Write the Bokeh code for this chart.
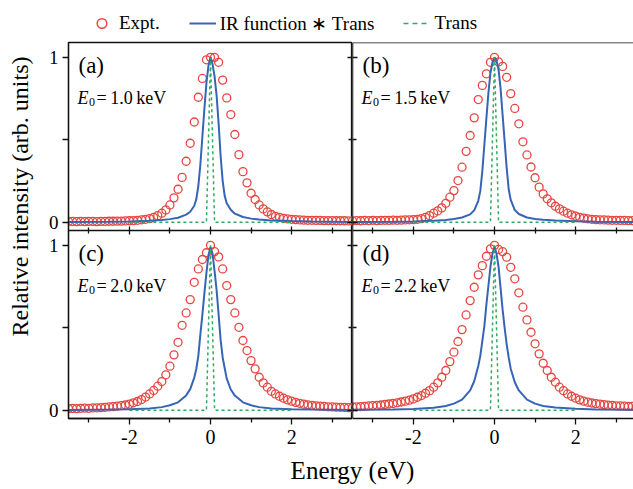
import math
from bokeh.plotting import figure
from bokeh.models import Range1d, LinearAxis, FixedTicker, Label, Legend, LegendItem, Span
from bokeh.layouts import row, column
from bokeh.embed import file_html
from bokeh.resources import INLINE

# ---------------- data ----------------
E_EXPT = [-3.5, -3.4, -3.3, -3.2, -3.1, -3.0, -2.9, -2.8, -2.7, -2.6,
          -2.5, -2.4, -2.3, -2.2, -2.1, -2.0, -1.9, -1.8, -1.7, -1.6,
          -1.5, -1.4, -1.3, -1.2, -1.1, -1.0, -0.9, -0.8, -0.7, -0.6,
          -0.5, -0.4, -0.3, -0.2, -0.1, 0.0, 0.1, 0.2, 0.3, 0.4,
          0.5, 0.6, 0.7, 0.8, 0.9, 1.0, 1.1, 1.2, 1.3, 1.4,
          1.5, 1.6, 1.7, 1.8, 1.9, 2.0, 2.1, 2.2, 2.3, 2.4,
          2.5, 2.6, 2.7, 2.8, 2.9, 3.0, 3.1, 3.2, 3.3, 3.4, 3.5]

EXPT_A = [0.005, 0.005, 0.004, 0.005, 0.004, 0.005, 0.005, 0.004, 0.005, 0.005,
          0.006, 0.006, 0.007, 0.007, 0.008, 0.009, 0.010, 0.012, 0.015, 0.018,
          0.022, 0.030, 0.040, 0.055, 0.075, 0.105, 0.148, 0.200, 0.272, 0.370,
          0.479, 0.608, 0.758, 0.872, 0.985, 1.000, 1.000, 0.970, 0.862, 0.754,
          0.653, 0.532, 0.410, 0.307, 0.239, 0.176, 0.138, 0.105, 0.081, 0.063,
          0.047, 0.036, 0.030, 0.024, 0.020, 0.018, 0.016, 0.014, 0.013, 0.012,
          0.012, 0.011, 0.011, 0.010, 0.010, 0.010, 0.009, 0.009, 0.009, 0.008, 0.008]

EXPT_B = [0.008, 0.010, 0.009, 0.011, 0.010, 0.012, 0.010, 0.011, 0.012, 0.011,
          0.013, 0.012, 0.013, 0.014, 0.015, 0.016, 0.018, 0.022, 0.030, 0.040,
          0.055, 0.069, 0.087, 0.115, 0.152, 0.192, 0.253, 0.334, 0.430, 0.526,
          0.633, 0.744, 0.830, 0.900, 0.970, 1.000, 0.972, 0.945, 0.879, 0.780,
          0.690, 0.597, 0.488, 0.408, 0.335, 0.270, 0.213, 0.172, 0.142, 0.118,
          0.097, 0.081, 0.067, 0.055, 0.045, 0.037, 0.030, 0.025, 0.021, 0.018,
          0.016, 0.015, 0.014, 0.013, 0.012, 0.012, 0.011, 0.011, 0.010, 0.010, 0.010]

EXPT_C = [0.010, 0.011, 0.010, 0.012, 0.013, 0.012, 0.014, 0.015, 0.016, 0.018,
          0.020, 0.022, 0.025, 0.028, 0.032, 0.037, 0.045, 0.053, 0.065, 0.080,
          0.099, 0.120, 0.146, 0.174, 0.215, 0.267, 0.336, 0.412, 0.515, 0.590,
          0.671, 0.776, 0.857, 0.914, 0.955, 1.000, 0.962, 0.930, 0.857, 0.756,
          0.671, 0.590, 0.503, 0.423, 0.362, 0.301, 0.251, 0.200, 0.166, 0.140,
          0.115, 0.099, 0.085, 0.073, 0.063, 0.055, 0.048, 0.042, 0.037, 0.033,
          0.030, 0.027, 0.025, 0.023, 0.021, 0.020, 0.019, 0.018, 0.017, 0.016, 0.016]

EXPT_D = [0.020, 0.021, 0.022, 0.024, 0.026, 0.028, 0.030, 0.032, 0.035, 0.038,
          0.041, 0.045, 0.050, 0.055, 0.061, 0.069, 0.079, 0.089, 0.103, 0.119,
          0.140, 0.166, 0.200, 0.241, 0.295, 0.352, 0.417, 0.489, 0.578, 0.665,
          0.746, 0.821, 0.877, 0.934, 0.979, 1.000, 0.975, 0.962, 0.928, 0.867,
          0.797, 0.712, 0.625, 0.548, 0.473, 0.403, 0.342, 0.285, 0.241, 0.200,
          0.170, 0.140, 0.119, 0.099, 0.085, 0.073, 0.063, 0.055, 0.049, 0.044,
          0.040, 0.037, 0.034, 0.031, 0.029, 0.027, 0.026, 0.025, 0.024, 0.023, 0.022]

E_IR = [-3.5, -2.5, -2.0, -1.5, -1.2, -1.0, -0.8, -0.6, -0.5, -0.4,
        -0.35, -0.3, -0.25, -0.2, -0.15, -0.1, -0.05, 0.0, 0.05, 0.1,
        0.15, 0.2, 0.25, 0.3, 0.35, 0.4, 0.5, 0.6, 0.8, 1.0,
        1.2, 1.5, 2.0, 2.5, 3.5]

IR_A = [0.001, 0.003, 0.005, 0.009, 0.014, 0.019, 0.027, 0.046, 0.064, 0.100,
        0.140, 0.220, 0.350, 0.520, 0.690, 0.845, 0.950, 1.000, 0.960, 0.885,
        0.770, 0.600, 0.400, 0.250, 0.160, 0.115, 0.076, 0.052, 0.032, 0.022,
        0.016, 0.011, 0.007, 0.004, 0.002]

IR_B = [0.002, 0.003, 0.005, 0.009, 0.014, 0.020, 0.029, 0.048, 0.072, 0.130,
        0.190, 0.310, 0.470, 0.630, 0.785, 0.905, 0.970, 1.000, 0.980, 0.925,
        0.810, 0.650, 0.490, 0.330, 0.200, 0.135, 0.074, 0.050, 0.029, 0.020,
        0.015, 0.010, 0.006, 0.003, 0.002]

IR_C = [0.002, 0.004, 0.006, 0.011, 0.019, 0.030, 0.048, 0.090, 0.128, 0.198,
        0.250, 0.330, 0.460, 0.580, 0.710, 0.835, 0.940, 0.990, 0.950, 0.845,
        0.730, 0.580, 0.425, 0.320, 0.255, 0.192, 0.126, 0.089, 0.048, 0.030,
        0.019, 0.011, 0.006, 0.004, 0.002]

IR_D = [0.003, 0.005, 0.008, 0.015, 0.026, 0.040, 0.064, 0.120, 0.176, 0.268,
        0.330, 0.420, 0.510, 0.640, 0.755, 0.870, 0.950, 0.990, 0.950, 0.870,
        0.740, 0.610, 0.500, 0.400, 0.320, 0.252, 0.170, 0.120, 0.064, 0.040,
        0.026, 0.016, 0.009, 0.005, 0.003]

E_TRANS = [-2.0, -0.1, 0.0, 0.1, 2.0]
TRANS = [0.0, 0.0, 1.0, 0.0, 0.0]

PANEL_TAGS = ["(a)", "(b)", "(c)", "(d)"]
PANEL_E0 = ["1.0", "1.5", "2.0", "2.2"]
X_MAJOR = [-2, 0, 2]
X_MINOR = [-3, -1, 1, 3]
X_TICK_LABELS = {-2: "-2", 0: "0", 2: "2"}
Y_MAJOR = [0, 1]
Y_MINOR = [0.5]
Y_TICK_LABELS = {0: "0", 1: "1"}
LEGEND_LABELS = ["Expt.", "IR function \u2217 Trans", "Trans"]
X_LABEL = "Energy (eV)"
Y_LABEL = "Relative intensity (arb. units)"

# ---------------- style ----------------
FONT = "Liberation Serif"
RED = "#e8453f"
BLUE = "#3765b5"
GREEN = "#2faa5e"
AX = "#111111"
LW = 1.3
X0, X1 = -3.5, 3.5
X1_RIGHT = 3.426
Y0, Y1 = -0.05, 1.09
SPAN = Y1 - Y0
PANEL_H = 188


def base_axis(ticker, **kw):
    ax = LinearAxis(ticker=ticker, **kw)
    ax.axis_line_color = AX
    ax.axis_line_width = LW
    ax.major_tick_line_color = AX
    ax.major_tick_line_width = LW
    ax.minor_tick_line_color = AX
    ax.minor_tick_line_width = LW
    return ax


def bare_ticks(ax, mj_in, mj_out, mn_in, mn_out):
    ax.major_tick_in = mj_in
    ax.major_tick_out = mj_out
    ax.minor_tick_in = mn_in
    ax.minor_tick_out = mn_out
    ax.major_label_text_color = None
    ax.major_label_standoff = 0
    return ax


def make_column(top_i, bot_i, expts, irs, left_col):
    x_end = X1 if left_col else X1_RIGHT
    p = figure(width=314 if left_col else 281, height=1 + 2 * PANEL_H + 34,
               x_range=Range1d(X0, x_end), y_range=Range1d(Y0, Y1 + SPAN),
               output_backend="svg", toolbar_location=None, tools="",
               x_axis_location=None, y_axis_location=None,
               min_border_left=30 if left_col else 0, min_border_right=0,
               min_border_top=1, min_border_bottom=34)
    p.extra_y_ranges = {"top": Range1d(Y0 - SPAN, Y1)}
    p.grid.visible = False
    p.background_fill_color = "white"
    p.border_fill_color = "white"
    p.outline_line_color = AX if left_col else None
    p.outline_line_width = LW

    xt = FixedTicker(ticks=X_MAJOR, minor_ticks=X_MINOR)
    yt = FixedTicker(ticks=Y_MAJOR, minor_ticks=Y_MINOR)

    if left_col:
        # one outer axis on the full-height scale: lower panel ticks, then upper panel ticks
        major = list(Y_MAJOR) + [v + SPAN for v in Y_MAJOR]
        minor = list(Y_MINOR) + [v + SPAN for v in Y_MINOR]
        over = {}
        for v in Y_MAJOR:
            over[v] = Y_TICK_LABELS[v]
            over[v + SPAN] = Y_TICK_LABELS[v]
        yl = base_axis(FixedTicker(ticks=major, minor_ticks=minor))
        yl.major_tick_out = 6
        yl.major_tick_in = 0
        yl.minor_tick_out = 6
        yl.minor_tick_in = 0
        yl.major_label_overrides = over
        yl.major_label_text_font = FONT
        yl.major_label_text_font_size = "19px"
        yl.major_label_text_color = "black"
        yl.major_label_standoff = 4
        p.add_layout(yl, "left")

    for rng in ("top", "default"):
        if left_col:
            yr = bare_ticks(base_axis(yt, y_range_name=rng, fixed_location=x_end), 5, 0, 4, 0)
            yr.axis_line_color = None
            p.add_layout(yr, "right")
        else:
            p.add_layout(bare_ticks(base_axis(yt, y_range_name=rng, fixed_location=X0), 5, 0, 4, 0), "left")

    # boundary between the upper and lower panel
    p.add_layout(bare_ticks(base_axis(xt, y_range_name="top", fixed_location=Y0), 4, 4, 3, 3), "below")

    xb = base_axis(xt)
    xb.major_tick_out = 6
    xb.major_tick_in = 0
    xb.minor_tick_out = 4
    xb.minor_tick_in = 0
    xb.major_label_overrides = X_TICK_LABELS
    xb.major_label_text_font = FONT
    xb.major_label_text_font_size = "20px"
    xb.major_label_text_color = "black"
    xb.major_label_standoff = 5
    p.add_layout(xb, "below")

    if not left_col:
        p.add_layout(Span(location=Y1, dimension="width", y_range_name="top",
                          line_color=AX, line_width=LW))

    for k, (idx, rng) in enumerate(((top_i, "top"), (bot_i, "default"))):
        p.scatter(E_EXPT, expts[k], marker="circle", size=8, fill_color=None,
                  line_color=RED, line_width=1.3, y_range_name=rng)
        p.line(E_IR, irs[k], line_color=BLUE, line_width=2, y_range_name=rng)
        p.line(E_TRANS, TRANS, line_color=GREEN, line_width=1.5, line_dash="3 3",
               y_range_name=rng)

        off = PANEL_H if rng == "top" else 0
        p.add_layout(Label(x=10, y=off + 165, x_units="screen", y_units="screen",
                           text=PANEL_TAGS[idx], text_font=FONT, text_font_size="23px",
                           text_baseline="middle", text_align="left", text_color="black"))
        p.add_layout(Label(x=9, y=off + 133, x_units="screen", y_units="screen", text="E",
                           text_font=FONT, text_font_style="italic", text_font_size="18px",
                           text_baseline="alphabetic", text_align="left", text_color="black"))
        p.add_layout(Label(x=20.5, y=off + 129, x_units="screen", y_units="screen", text="0",
                           text_font=FONT, text_font_size="12px",
                           text_baseline="alphabetic", text_align="left", text_color="black"))
        p.add_layout(Label(x=28, y=off + 133, x_units="screen", y_units="screen",
                           text="=\u2009" + PANEL_E0[idx] + "\u2009keV",
                           text_font=FONT, text_font_size="18px",
                           text_baseline="alphabetic", text_align="left", text_color="black"))
    return p


def blank(w, h, y_range=(0, 1)):
    f = figure(width=w, height=h, x_range=Range1d(0, 1), y_range=Range1d(*y_range),
               output_backend="svg", toolbar_location=None, tools="",
               x_axis_location=None, y_axis_location=None, min_border=0)
    f.grid.visible = False
    f.outline_line_color = None
    return f


left = make_column(0, 2, [EXPT_A, EXPT_C], [IR_A, IR_C], True)
right = make_column(1, 3, [EXPT_B, EXPT_D], [IR_B, IR_D], False)

# legend strip: its renderers carry panel (a)'s data but the strip's range shows none of it
lg = blank(633, 41, y_range=(5, 6))
r1 = lg.scatter(E_EXPT, EXPT_A, marker="circle", size=9, fill_color=None, line_color=RED, line_width=1.5)
r2 = lg.line(E_IR, IR_A, line_color=BLUE, line_width=2)
r3 = lg.line(E_TRANS, TRANS, line_color=GREEN, line_width=1.5, line_dash="5 4")
legend = Legend(items=[LegendItem(label=LEGEND_LABELS[0], renderers=[r1]),
                       LegendItem(label=LEGEND_LABELS[1], renderers=[r2]),
                       LegendItem(label=LEGEND_LABELS[2], renderers=[r3])],
                orientation="horizontal", location=(88, 6),
                label_text_font=FONT, label_text_font_size="19px", label_text_color="black",
                glyph_width=27, glyph_height=24, label_standoff=4, spacing=29,
                padding=0, margin=0, border_line_color=None, background_fill_alpha=0)
lg.add_layout(legend)

# y label strip
ylf = blank(38, 1 + 2 * PANEL_H + 34)
ylf.add_layout(Label(x=19, y=222, x_units="screen", y_units="screen", text=Y_LABEL,
                     angle=math.pi / 2, text_align="center", text_baseline="middle",
                     text_font=FONT, text_font_size="24px", text_color="black"))

# x label strip
xlf = blank(633, 37)
xlf.add_layout(Label(x=352, y=19, x_units="screen", y_units="screen", text=X_LABEL,
                     text_align="center", text_baseline="middle",
                     text_font=FONT, text_font_size="25px", text_color="black"))

layout = column(lg, row(ylf, left, right), xlf)

open("out.html", "w").write(file_html(layout, INLINE))
